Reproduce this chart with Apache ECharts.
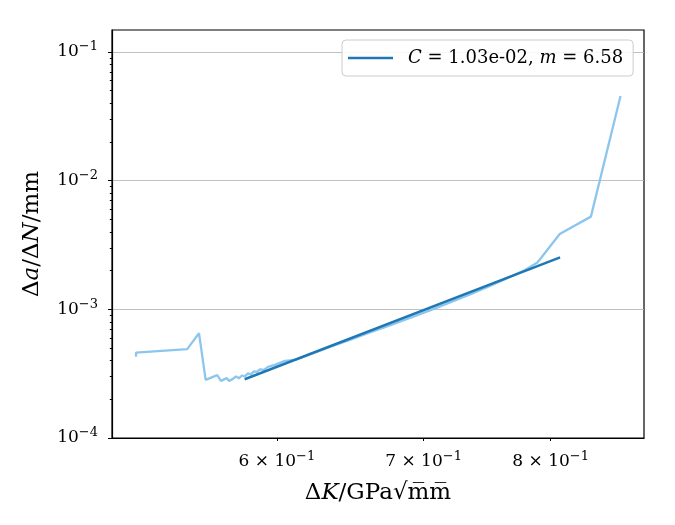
<!DOCTYPE html>
<html>
<head>
<meta charset="utf-8">
<script src="https://cdn.jsdelivr.net/npm/echarts@6/dist/echarts.min.js"></script>
<style>
  html, body { margin: 0; padding: 0; background: #fff; }
  #chart { width: 675px; height: 525px; }
</style>
</head>
<body>
<div id="chart"></div>
<script>
// measured crack growth data (dK in GPa*sqrt(mm), da/dN in mm)
const dK = [0.5174, 0.5174, 0.546, 0.5528, 0.5567, 0.5635, 0.5657, 0.5691, 0.5706,
  0.5729, 0.5747, 0.5765, 0.5783, 0.5801, 0.5820, 0.5838, 0.5857, 0.5875, 0.5894,
  0.5918, 0.5944, 0.5987, 0.6051, 0.6115, 0.6212, 0.6344, 0.6478, 0.6616, 0.6756,
  0.6900, 0.7047, 0.7197, 0.7350, 0.7506, 0.7666, 0.7788, 0.789, 0.8077, 0.8346, 0.861]
const dadN = [4.27e-4, 4.61e-4, 4.90e-4, 6.52e-4, 2.83e-4, 3.08e-4, 2.78e-4, 2.92e-4, 2.78e-4,
  2.88e-4, 3.01e-4, 2.91e-4, 3.06e-4, 3.01e-4, 3.18e-4, 3.12e-4, 3.29e-4, 3.26e-4, 3.41e-4,
  3.38e-4, 3.57e-4, 3.70e-4, 3.97e-4, 4.04e-4, 4.46e-4, 5.10e-4, 5.78e-4, 6.61e-4, 7.50e-4,
  8.58e-4, 9.80e-4, 1.131e-3, 1.305e-3, 1.520e-3, 1.785e-3, 2.023e-3, 2.31e-3, 3.85e-3, 5.25e-3, 4.55e-2]

// Paris law fit line end points
const fitK = [0.580, 0.808]
const fitRate = [2.86e-4, 2.53e-3]
const fitName = 'C = 1.03e-02, m = 6.58'

// ticks
const xTicks = [0.6, 0.7, 0.8]
const yMajor = [1e-4, 1e-3, 1e-2, 1e-1]
const yMinor = [2e-4, 3e-4, 4e-4, 5e-4, 6e-4, 7e-4, 8e-4, 9e-4,
  2e-3, 3e-3, 4e-3, 5e-3, 6e-3, 7e-3, 8e-3, 9e-3,
  2e-2, 3e-2, 4e-2, 5e-2, 6e-2, 7e-2, 8e-2, 9e-2]

const serif = 'DejaVu Serif'
const supRich = {
  n: { fontFamily: serif, fontSize: 17, color: '#000' },
  s: { fontFamily: serif, fontSize: 13, color: '#000', padding: [0, 0, 10, 0] }
}
const titleRich = {
  n: { fontFamily: serif, fontSize: 23, color: '#000' },
  i: { fontFamily: serif, fontSize: 23, fontStyle: 'italic', color: '#000' }
}

const chart = echarts.init(document.getElementById('chart'))
chart.setOption({
  animation: false,
  grid: {
    left: 112, right: 31, top: 30, bottom: 87,
    show: true, borderColor: '#000', borderWidth: 1.2
  },
  legend: {
    data: [fitName],
    left: 342, top: 40,
    padding: [7, 10, 7, 6],
    icon: 'rect',
    itemWidth: 45, itemHeight: 2.5,
    backgroundColor: 'rgba(255,255,255,0.85)',
    borderColor: '#cccccc', borderWidth: 1, borderRadius: 4,
    formatter: function() {
      return '{g|}{i|C} = 1.03e-02, {i|m} = 6.58'
    },
    textStyle: {
      fontFamily: serif, fontSize: 18, lineHeight: 22, color: '#000',
      rich: {
        g: { width: 10 },
        i: { fontFamily: serif, fontSize: 18, fontStyle: 'italic', color: '#000' }
      }
    }
  },
  xAxis: {
    type: 'log',
    min: 0.5045, max: 0.8825,
    name: '{n|Δ}{i|K}{n|/GPa√m\u0305m\u0305}',
    nameLocation: 'middle', nameGap: 44,
    nameTextStyle: { rich: titleRich },
    axisLine: { onZero: false, lineStyle: { color: '#000', width: 1.2 } },
    axisTick: { customValues: xTicks, length: 3, lineStyle: { color: '#000' } },
    axisLabel: {
      customValues: xTicks, margin: 12,
      formatter: function(v) {
        return '{n|' + Math.round(v * 10) + ' × 10}{s|−1}'
      },
      rich: supRich
    },
    splitLine: { show: false }
  },
  yAxis: [{
    type: 'log',
    min: 1e-4, max: 0.148,
    name: '{n|Δ}{i|a}{n|/Δ}{i|N}{n|/mm}',
    nameLocation: 'middle', nameGap: 68, nameRotate: 90,
    nameTextStyle: { rich: titleRich },
    axisLine: { onZero: false, lineStyle: { color: '#000', width: 1.2 } },
    axisTick: { customValues: yMajor, length: 4, lineStyle: { color: '#000' } },
    axisLabel: {
      customValues: yMajor, margin: 14,
      formatter: function(v) {
        return '{n|10}{s|−' + Math.round(-Math.log10(v)) + '}'
      },
      rich: supRich
    },
    splitLine: { show: true, lineStyle: { color: '#b0b0b0', width: 0.8 } }
  }, {
    type: 'log',
    position: 'left',
    min: 1e-4, max: 0.148,
    axisLine: { show: false },
    axisTick: { customValues: yMinor, length: 2.2, lineStyle: { color: '#000' } },
    axisLabel: { show: false },
    splitLine: { show: false }
  }],
  series: [{
    name: 'data',
    type: 'line',
    symbol: 'none',
    lineStyle: { color: '#8cc6ee', width: 2.3 },
    data: dK.map((k, i) => [k, dadN[i]])
  }, {
    name: fitName,
    type: 'line',
    symbol: 'none',
    color: '#1f77b4',
    lineStyle: { color: '#1f77b4', width: 2.5 },
    data: fitK.map((k, i) => [k, fitRate[i]])
  }]
})
</script>
</body>
</html>
